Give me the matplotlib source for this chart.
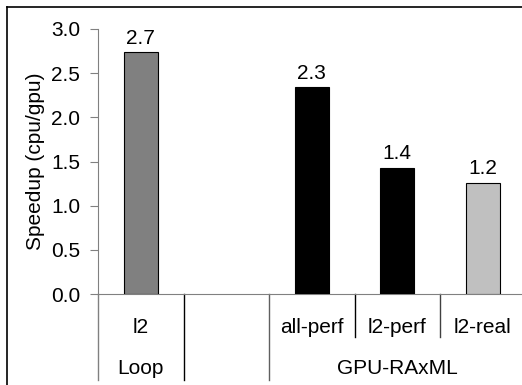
import matplotlib.pyplot as plt
from matplotlib.lines import Line2D

plt.rcParams['font.family'] = ['Liberation Sans', 'DejaVu Sans']

# data
categories = ['l2', '', 'all-perf', 'l2-perf', 'l2-real']
groups = ['Loop', 'GPU-RAxML']
speedup = [2.74, 0, 2.34, 1.43, 1.26]
value_labels = ['2.7', '', '2.3', '1.4', '1.2']
colors = ['#808080', 'none', '#000000', '#000000', '#c0c0c0']

W, H = 522, 385
FS = 15
fig = plt.figure(figsize=(W / 100, H / 100), dpi=100)
ax = fig.add_axes([98 / W, 1 - 294 / H, (W - 98) / W, 265 / H])

x = list(range(len(categories)))
for i in x:
    if speedup[i] > 0:
        ax.bar(i, speedup[i], width=0.4, color=colors[i], edgecolor='black', linewidth=0.8, zorder=3)
        ax.text(i, speedup[i] + 0.05, value_labels[i], ha='center', va='bottom', fontsize=FS)

ax.set_xlim(-0.5, -0.5 + (W - 98) / 85.5)
ax.set_ylim(0, 3.0)
ax.set_yticks([0, 0.5, 1.0, 1.5, 2.0, 2.5, 3.0])
ax.set_yticklabels(['%.1f' % v for v in ax.get_yticks()], fontsize=FS)
ax.set_xticks([])
for s in ['top', 'right']:
    ax.spines[s].set_visible(False)
ax.spines['left'].set_color('#808080')
ax.spines['bottom'].set_color('#808080')
ax.tick_params(axis='y', direction='out', length=5.8, color='#808080', pad=7)
ax.set_ylabel('Speedup (cpu/gpu)', fontsize=FS, labelpad=4)

# category table below the axis
tr = ax.get_xaxis_transform()
for xs, ybot, c in [(-0.5, -0.325, '#808080'), (0.5, -0.325, 'black'), (1.5, -0.325, '#606060'),
                    (2.5, -0.162, 'black'), (3.5, -0.162, '#404040')]:
    ax.add_line(Line2D([xs, xs], [0, ybot], transform=tr, color=c, lw=1, clip_on=False))
for i, c in enumerate(categories):
    ax.text(i, -0.125, c, transform=tr, ha='center', va='center', fontsize=FS)
ax.text(0, -0.28, groups[0], transform=tr, ha='center', va='center', fontsize=FS)
ax.text(3, -0.28, groups[1], transform=tr, ha='center', va='center', fontsize=FS)

# outer frame (top and left visible)
fig.add_artist(Line2D([7 / W, 7 / W], [0, 1 - 6.5 / H], color='black', lw=1.2))
fig.add_artist(Line2D([7 / W, 1], [1 - 6.5 / H, 1 - 6.5 / H], color='black', lw=1.2))

fig.savefig('out.png', dpi=100)
